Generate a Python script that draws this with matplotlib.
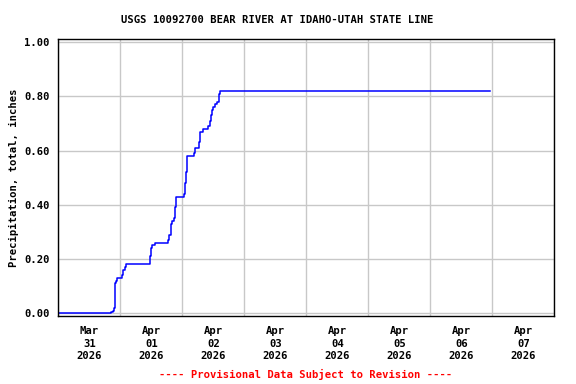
import numpy as np
import pandas as pd
import matplotlib
matplotlib.use("Agg")
import matplotlib.pyplot as plt
import matplotlib.dates as mdates

# hours after 2026-04-01 00:00 and cumulative precipitation (inches)
hours = [-24.0, -3.7, -2.8, -2.45, -2.2, -2.05, -1.7, -1.15, 0.8, 1.15, 1.7, 2.2,
         11.6, 11.9, 12.25, 13.4, 18.6, 19.0, 19.5, 19.75, 20.1, 20.6, 21.2, 21.5,
         24.8, 25.0, 25.4, 25.8, 28.6, 29.0, 30.6, 31.0, 32.0, 34.1, 34.6, 35.1,
         35.5, 35.9, 36.8, 37.5, 38.2, 38.6, 143.0]
precip = [0.00, 0.005, 0.01, 0.02, 0.05, 0.11, 0.12, 0.13, 0.14, 0.16, 0.17, 0.18,
          0.21, 0.24, 0.25, 0.26, 0.27, 0.29, 0.30, 0.33, 0.34, 0.35, 0.39, 0.43,
          0.44, 0.48, 0.52, 0.58, 0.59, 0.61, 0.63, 0.67, 0.68, 0.69, 0.71, 0.73,
          0.75, 0.76, 0.77, 0.78, 0.81, 0.82, 0.82]

title = "USGS 10092700 BEAR RIVER AT IDAHO-UTAH STATE LINE"
ylabel = "Precipitation, total, inches"
footer = "---- Provisional Data Subject to Revision ----"

t0 = pd.Timestamp("2026-04-01")
times = [t0 + pd.Timedelta(hours=h) for h in hours]

font = "DejaVu Sans Mono"
fig = plt.figure(figsize=(5.76, 3.84), dpi=100)
ax = fig.add_axes([58.3 / 576, 1 - 316 / 384, 496 / 576, (316 - 39.3) / 384])

ax.plot(times, precip, color="#0000ff", lw=1.1, drawstyle="steps-post")

ax.set_xlim(pd.Timestamp("2026-03-31"), pd.Timestamp("2026-04-08"))
ax.set_ylim(-0.01, 1.01)

ax.xaxis.set_major_locator(mdates.DayLocator())
ax.xaxis.set_major_formatter(plt.NullFormatter())
ax.xaxis.set_minor_locator(mdates.HourLocator(byhour=[12]))
ax.xaxis.set_minor_formatter(mdates.DateFormatter("%b\n%d\n%Y"))
ax.set_yticks(np.arange(0, 1.01, 0.2))
ax.set_yticklabels([f"{v:.2f}" for v in np.arange(0, 1.01, 0.2)])

ax.grid(True, which="major", color="#c8c8c8", lw=1)
ax.tick_params(which="both", length=0)
ax.tick_params(axis="x", which="minor", pad=7)
ax.tick_params(axis="y", pad=6)
for lab in ax.get_xticklabels(minor=True) + ax.get_yticklabels():
    lab.set_fontfamily(font)
    lab.set_fontweight("bold")
    lab.set_fontsize(7.6)
    lab.set_linespacing(1.35)
for s in ax.spines.values():
    s.set_linewidth(1)

ax.set_ylabel(ylabel, fontfamily=font, fontweight="bold", fontsize=7.6, labelpad=4)
fig.text(277 / 576, 1 - 20 / 384, title, ha="center", va="center",
         fontfamily=font, fontweight="bold", fontsize=7.6)
fig.text(306 / 576, 1 - 374 / 384, footer, ha="center", va="center",
         fontfamily=font, fontweight="bold", fontsize=7.6, color="red")

fig.savefig("out.png", dpi=100)
